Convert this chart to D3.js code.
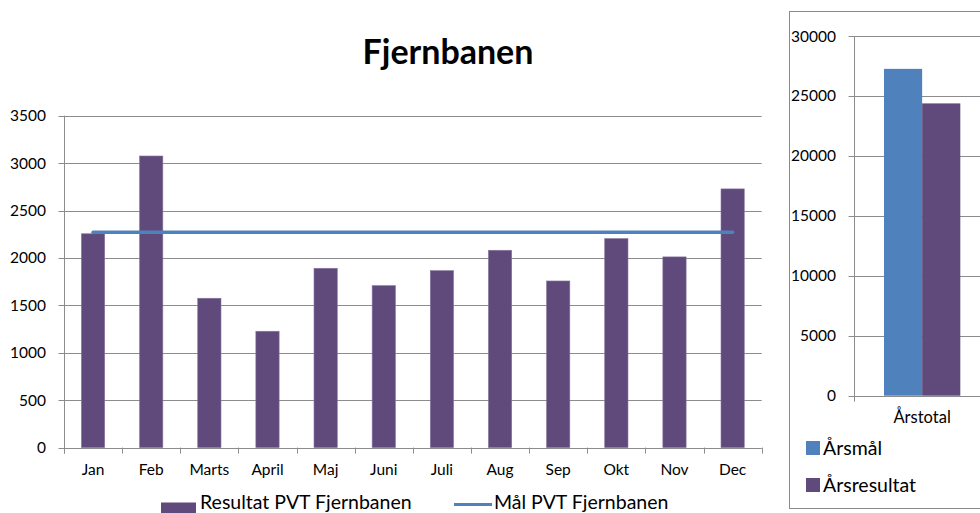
<!DOCTYPE html>
<html><head><meta charset="utf-8">
<script src="https://cdn.jsdelivr.net/npm/d3@7/dist/d3.min.js"></script>
<style>
html,body{margin:0;padding:0;background:#fff;overflow:hidden;}
svg{display:block;font-family:Lato, "Open Sans", sans-serif;}
</style></head>
<body>
<svg id="c" width="980" height="513"></svg>
<script>
// ---- data ----
const months = ["Jan","Feb","Marts","April","Maj","Juni","Juli","Aug","Sep","Okt","Nov","Dec"];
const resultat = [2255,3075,1575,1227,1891,1708,1866,2081,1757,2204,2011,2728];
const maal = [2272,2272,2272,2272,2272,2272,2272,2272,2272,2272,2272,2272];
const leftTicks = [0,500,1000,1500,2000,2500,3000,3500];
const annualCategory = ["Årstotal"];
const annualSeries = ["Årsmål","Årsresultat"];
const annualValues = [27260, 24378];
const rightTicks = [0,5000,10000,15000,20000,25000,30000];
const title = "Fjernbanen";
const legendLeft = ["Resultat PVT Fjernbanen","Mål PVT Fjernbanen"];

const PURPLE = "#604A7B", BLUE = "#4F81BD", GRID = "#8c8c8c";
const svg = d3.select("#c");

// ---- left chart ----
const x = d3.scaleBand().domain(months).range([64, 761.7]).paddingInner(0.6).paddingOuter(0.3);
const y = d3.scaleLinear().domain([0, 3500]).range([447.6, 115.7]);
const L = svg.append("g");

L.selectAll("line.grid").data(leftTicks).join("line")
  .attr("x1", 58.5).attr("x2", 761.7)
  .attr("y1", d => Math.round(y(d)) + 0.5).attr("y2", d => Math.round(y(d)) + 0.5)
  .attr("stroke", GRID).attr("stroke-width", 1);
L.append("line").attr("x1", 64.5).attr("x2", 64.5).attr("y1", y(3500)).attr("y2", y(0) + 6)
  .attr("stroke", GRID);
const step = x.step();
const bounds = months.map(m => x(m) + x.bandwidth() / 2 - step / 2).concat([x(months[11]) + x.bandwidth() / 2 + step / 2]);
L.selectAll("line.xt").data(bounds).join("line")
  .attr("x1", d => Math.round(d) + 0.5).attr("x2", d => Math.round(d) + 0.5)
  .attr("y1", y(0)).attr("y2", y(0) + 6).attr("stroke", GRID);
L.selectAll("text.yl").data(leftTicks).join("text")
  .attr("x", 46).attr("y", d => y(d) + 5.5).attr("text-anchor", "end")
  .attr("font-size", 15.5).attr("fill", "#000").text(d => d);
L.selectAll("text.xl").data(months).join("text")
  .attr("x", d => x(d) + x.bandwidth() / 2).attr("y", 475).attr("text-anchor", "middle")
  .attr("font-size", 15.5).attr("fill", "#000").text(d => d);
L.selectAll("rect.bar").data(resultat).join("rect")
  .attr("x", (d, i) => x(months[i])).attr("width", x.bandwidth())
  .attr("y", d => y(d)).attr("height", d => y(0) - y(d))
  .attr("fill", PURPLE).attr("stroke", "#8675a0").attr("stroke-width", 0.6);
L.append("path").datum(maal)
  .attr("d", d3.line().x((d, i) => x(months[i]) + x.bandwidth() / 2).y(d => y(d)))
  .attr("fill", "none").attr("stroke", BLUE).attr("stroke-width", 3.5).attr("stroke-linecap", "round");
svg.append("text").attr("x", 448).attr("y", 64).attr("text-anchor", "middle")
  .attr("font-size", 34).attr("font-weight", "bold").attr("fill", "#000").text(title);
const lg = svg.append("g");
lg.append("rect").attr("x", 161).attr("y", 502.5).attr("width", 35).attr("height", 14).attr("fill", PURPLE);
lg.append("text").attr("x", 200).attr("y", 509).attr("font-size", 19.5).attr("fill", "#000").text(legendLeft[0]);
lg.append("line").attr("x1", 454).attr("x2", 492).attr("y1", 504.5).attr("y2", 504.5)
  .attr("stroke", BLUE).attr("stroke-width", 3);
lg.append("text").attr("x", 494).attr("y", 509).attr("font-size", 19.5).attr("fill", "#000").text(legendLeft[1]);

// ---- right chart ----
const R = svg.append("g");
R.append("rect").attr("x", 789.5).attr("y", 11.5).attr("width", 300).attr("height", 497)
  .attr("fill", "#fff").attr("stroke", "#8a8a8a");
const x2 = d3.scaleBand().domain(annualCategory).range([854.3, 990]).paddingInner(0).paddingOuter(0.389);
const xs = d3.scaleBand().domain(annualSeries).range([0, x2.bandwidth()]).padding(0);
const y2 = d3.scaleLinear().domain([0, 30000]).range([395.7, 36]);
R.selectAll("line.grid").data(rightTicks).join("line")
  .attr("x1", 848.5).attr("x2", 980)
  .attr("y1", d => Math.round(y2(d)) + 0.5).attr("y2", d => Math.round(y2(d)) + 0.5)
  .attr("stroke", GRID);
R.append("line").attr("x1", 854.5).attr("x2", 854.5).attr("y1", y2(30000)).attr("y2", y2(0) + 6).attr("stroke", GRID);
R.selectAll("text.yl").data(rightTicks).join("text")
  .attr("x", 836).attr("y", d => y2(d) + 5.5).attr("text-anchor", "end")
  .attr("font-size", 15.5).attr("fill", "#000").text(d => d);
R.selectAll("text.xl").data(annualCategory).join("text")
  .attr("x", d => x2(d) + x2.bandwidth() / 2).attr("y", 423).attr("text-anchor", "middle")
  .attr("font-size", 16.5).attr("fill", "#000").text(d => d);
const colors = [BLUE, PURPLE];
R.selectAll("rect.bar").data(annualValues).join("rect")
  .attr("x", (d, i) => x2(annualCategory[0]) + xs(annualSeries[i])).attr("width", xs.bandwidth())
  .attr("y", d => y2(d)).attr("height", d => y2(0) - y2(d))
  .attr("fill", (d, i) => colors[i]);
annualSeries.forEach((s, i) => {
  R.append("rect").attr("x", 806).attr("y", 441 + i * 37).attr("width", 14).attr("height", 14).attr("fill", colors[i]);
  R.append("text").attr("x", 823).attr("y", 455 + i * 37).attr("font-size", 19.5).attr("fill", "#000").text(s);
});
</script>
</body></html>
